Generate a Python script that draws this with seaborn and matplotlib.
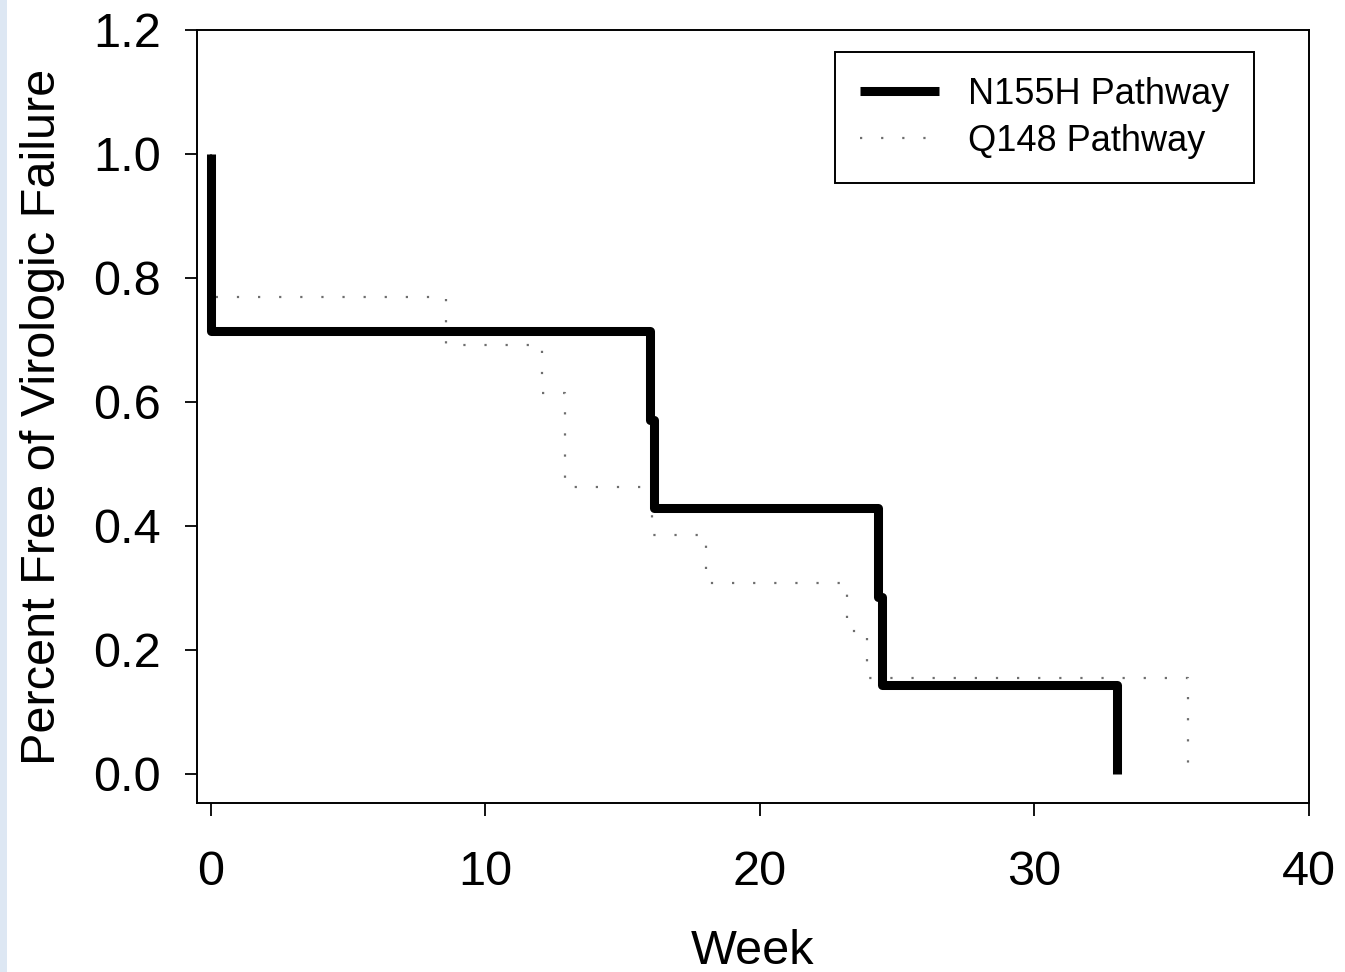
import numpy as np
import pandas as pd
import matplotlib
matplotlib.use("Agg")
import matplotlib.pyplot as plt
import seaborn as sns
from matplotlib.patches import Rectangle

# Data (Kaplan-Meier style step curves)
n155h_week = [0.0, 0.0, 16.0, 16.15, 24.3, 24.45, 33.0]
n155h_surv = [1.0, 0.714, 0.571, 0.429, 0.286, 0.143, 0.0]
q148_week = [0.0, 0.0, 8.55, 12.05, 12.9, 16.05, 18.03, 23.17, 23.9, 35.6]
q148_surv = [1.0, 0.769, 0.692, 0.615, 0.462, 0.385, 0.308, 0.231, 0.154, 0.0]
series_names = ["N155H Pathway", "Q148 Pathway"]
x_ticks = [0, 10, 20, 30, 40]
y_ticks = [0.0, 0.2, 0.4, 0.6, 0.8, 1.0, 1.2]

df = pd.concat([
    pd.DataFrame({"Week": n155h_week, "Surv": n155h_surv, "Pathway": series_names[0]}),
    pd.DataFrame({"Week": q148_week, "Surv": q148_surv, "Pathway": series_names[1]}),
], ignore_index=True)

sns.set_style("ticks")
plt.rcParams['font.family'] = ['Liberation Sans', 'DejaVu Sans']
plt.rcParams['text.color'] = 'black'
plt.rcParams['axes.labelcolor'] = 'black'

fig = plt.figure(figsize=(13.45, 9.72), dpi=100)
fig.patches.append(Rectangle((0, 0), 7 / 1345, 1, transform=fig.transFigure,
                             facecolor="#dde7f3", edgecolor="none", zorder=0))
ax = fig.add_axes([197 / 1345, 1 - 803 / 972, (1309 - 197) / 1345, (803 - 30) / 972])

# Draw Q148 first (underneath)
sns.lineplot(data=df[df.Pathway == series_names[1]], x="Week", y="Surv",
             estimator=None, sort=False, drawstyle="steps-post", ax=ax,
             color="#6e6e6e", linewidth=1.6, dashes=False,
             linestyle=(0, (1, 8.5)), label=series_names[1], legend=False)
sns.lineplot(data=df[df.Pathway == series_names[0]], x="Week", y="Surv",
             estimator=None, sort=False, drawstyle="steps-post", ax=ax,
             color="black", linewidth=6.5, solid_joinstyle="round",
             solid_capstyle="butt", label=series_names[0], legend=False)

ax.set_xlim(-0.51, 40)
ax.set_ylim(-0.047, 1.2)
ax.set_xticks(x_ticks)
ax.set_yticks(y_ticks)
ax.set_xticklabels([str(v) for v in x_ticks])
ax.set_yticklabels([f"{v:.1f}" for v in y_ticks])
ax.tick_params(axis="both", direction="out", length=9, width=1.3,
               labelsize=35, colors="black")
ax.tick_params(axis="x", pad=25)
ax.tick_params(axis="y", pad=17)
for s in ax.spines.values():
    s.set_visible(True)
    s.set_linewidth(1.4)
    s.set_color("black")

ax.set_xlabel("Week", fontsize=35, labelpad=24, color="black")
ax.set_ylabel("Percent Free of Virologic Failure", fontsize=35, labelpad=20, color="black")

handles, labels = ax.get_legend_handles_labels()
order = [labels.index(series_names[0]), labels.index(series_names[1])]
leg = ax.legend([handles[i] for i in order], [labels[i] for i in order],
                loc="upper right", bbox_to_anchor=(0.9505, 0.971),
                fontsize=26, frameon=True, fancybox=False, framealpha=1,
                edgecolor="black", handlelength=2.2, handletextpad=0.8,
                borderpad=0.68, labelspacing=0.33, borderaxespad=0)
leg.get_frame().set_linewidth(1.4)
for t in leg.get_texts():
    t.set_color("black")

fig.savefig("out.png", dpi=100)
